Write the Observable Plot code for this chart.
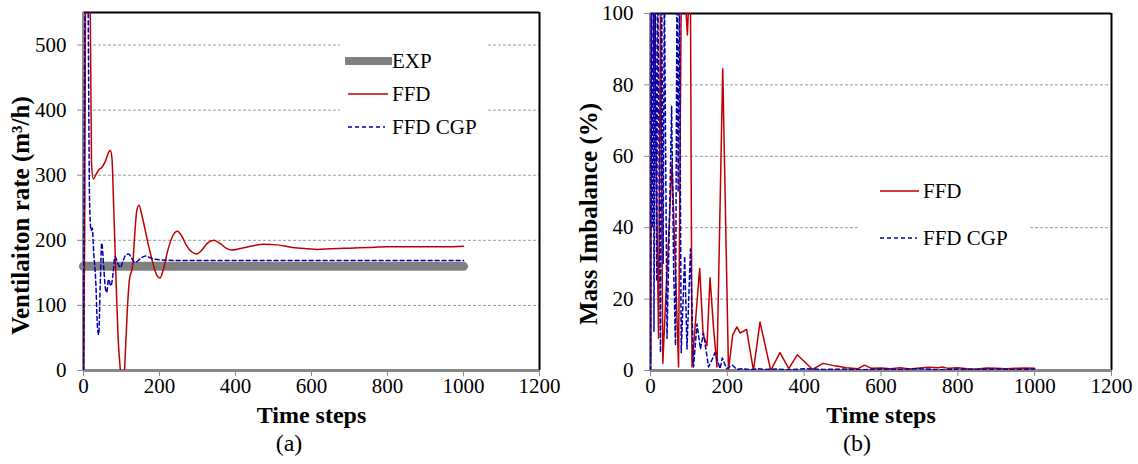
<!DOCTYPE html>
<html><head><meta charset="utf-8">
<script src="https://cdn.jsdelivr.net/npm/d3@7"></script>
<script src="https://cdn.jsdelivr.net/npm/@observablehq/plot@0.6"></script>
<style>
body{margin:0;background:#fff;font-family:"Liberation Serif",serif;}
#wrap{position:relative;width:1138px;height:464px;overflow:hidden;background:#fff}
.panel{position:absolute;top:0}
.box{position:absolute;background:#fff}
.lg{position:absolute;display:flex;align-items:center;height:24px;font-size:21px;line-height:24px;color:#000;white-space:nowrap}
.lg svg{display:block}
.cap{position:absolute;font-size:24px;line-height:24px;transform:translate(-50%,-50%);color:#000}
</style></head>
<body>
<div id="wrap">
  <div id="pa" class="panel" style="left:0"></div>
  <div id="pb" class="panel" style="left:565px"></div>
  <div class="box" style="left:340px;top:38px;width:147px;height:112px"></div>
  <div class="lg" style="left:345px;top:49px"><svg width="47" height="24"><line x1="0" x2="47" y1="12" y2="12" stroke="#808080" stroke-width="8"/></svg><span>EXP</span></div>
  <div class="lg" style="left:348px;top:82px"><svg width="40" height="24"><line x1="0" x2="40" y1="12" y2="12" stroke="#C00000" stroke-width="1.5"/></svg><span style="margin-left:4px">FFD</span></div>
  <div class="lg" style="left:348px;top:115px"><svg width="37" height="24"><line x1="0" x2="37" y1="12" y2="12" stroke="#0000B0" stroke-width="1.5" stroke-dasharray="4,3"/></svg><span style="margin-left:7px">FFD CGP</span></div>
  <div class="box" style="left:858px;top:168px;width:172px;height:92px"></div>
  <div class="lg" style="left:880px;top:179px"><svg width="39" height="24"><line x1="0" x2="39" y1="12" y2="12" stroke="#C00000" stroke-width="1.5"/></svg><span style="margin-left:4px">FFD</span></div>
  <div class="lg" style="left:880px;top:226px"><svg width="37" height="24"><line x1="0" x2="37" y1="12" y2="12" stroke="#0000B0" stroke-width="1.5" stroke-dasharray="4,3"/></svg><span style="margin-left:6px">FFD CGP</span></div>
  <div class="cap" style="left:289px;top:443px">(a)</div>
  <div class="cap" style="left:857px;top:443px">(b)</div>
</div>
<script>
// ---- shared ----
const xTicks = [0, 200, 400, 600, 800, 1000, 1200];
const xMax = 1200;
const xLabel = "Time steps";

// ---- panel (a): ventilation rate ----
const yTicksA = [0, 100, 200, 300, 400, 500];
const yMaxA = 550;
const yLabelA = "Ventilaiton rate (m³/h)";
const expT = [0, 1000];
const expV = [160, 160];
const ffdAT = [0,3,6,17,21,26,32,40,48,58,66,71,75,79,85,92,97,100,105,108,115,121,129,135,140,146,155,170,185,193,201,210,222,235,247,258,270,285,298,310,325,343,360,375,390,410,440,475,510,550,590,616,650,700,750,800,850,900,950,1000];
const ffdAV = [0,200,600,600,320,294,300,308,312,322,335,338,325,260,150,40,0,-30,-30,0,90,140,160,210,245,254,235,195,160,146,142,155,185,207,214,207,193,182,179,184,195,200,195,188,185,187,191,194,193,189,187,186,187,188,189,190,190,190,190,191];
const cgpAT = [0,5,11,16,20,23,27,32,37,40,44,48,53,58,61,66,72,78,83,90,97,105,112,119,127,136,150,163,180,200,250,300,400,500,600,700,800,900,1000];
const cgpAV = [0,600,600,260,215,219,180,140,65,55,130,196,160,125,120,140,130,150,175,165,158,170,178,179,172,166,172,176,172,170,169,169,169,169,169,169,169,169,169];

// ---- panel (b): mass imbalance ----
const yTicksB = [0, 20, 40, 60, 80, 100];
const yMaxB = 100;
const yLabelB = "Mass Imbalance (%)";
const ffdBT = [0,3,9,21,26,32,56,73,80,90,96,100,104,108,118,128,137,147,155,164,173,188,203,214,225,233,242,250,268,285,313,337,360,382,422,449,480,510,540,557,575,600,625,650,675,700,725,750,759,775,800,825,850,875,900,925,950,975,1000];
const ffdBV = [3,105,105,9,105,2,58,1,105,105,94,105,105,1,15,28.6,10,7,26,12,1,84.5,0,10,12.2,10.5,11,11.5,0,13.6,0,5,0.5,4.4,0.3,2,1.3,0.8,0.5,1.5,0.6,0.7,0.5,0.8,0.4,0.7,0.9,0.8,1.0,0.6,0.8,0.5,0.4,0.7,0.6,0.5,0.6,0.7,0.6];
const cgpBT = [0,2,5,8,9,13,16,19,26,29,33,36,43,49,55,60,65,69,72,75,80,89,95,104,112,121,130,138,151,160,168,181,187,198,213,225,240,260,280,300,330,360,400,450,500,550,600,650,700,750,800,850,900,950,1000];
const cgpBV = [0,110,40,110,11,110,25,110,5,110,30,110,9,40,74,30,7,110,50,110,5,32,6,34,1,13,6,10.5,1,3,5,0.5,3.5,0.5,1.5,0.3,0.5,0.2,0.5,0.3,0.4,0.2,0.5,0.3,0.4,0.2,0.4,0.3,0.5,0.2,0.4,0.3,0.4,0.3,0.4];

const RED = "#C00000", BLUE = "#0000B0", GRAY = "#808080";
const FONT = "Liberation Serif";

function panel({width, marginLeft, marginRight, marginTop, yTicks, yMax, yLabel, yDx, yDy, series}) {
  const svg = Plot.plot({
    width, height: 420, marginLeft, marginRight, marginTop, marginBottom: 50,
    style: {fontFamily: FONT, fontSize: "21px", color: "#000", background: "transparent", overflow: "visible"},
    x: {domain: [0, xMax], ticks: xTicks},
    y: {domain: [0, yMax], ticks: yTicks},
    marks: [
      Plot.gridY(yTicks.filter(d => d > 0 && d < yMax), {stroke: "#999", strokeOpacity: 1, strokeWidth: 1, strokeDasharray: "3,2"}),
      Plot.ruleY([yMax], {stroke: "#000", strokeWidth: 2}),
      Plot.ruleX([xMax], {stroke: "#000", strokeWidth: 2}),
      Plot.ruleX([0], {stroke: "#888", strokeWidth: 3}),
      Plot.ruleY([0], {stroke: "#888", strokeWidth: 3}),
      ...series,
      Plot.axisX({ticks: xTicks, tickSize: 6, tickPadding: 2, label: null, stroke: "#888", tickFormat: d => String(d), fontSize: 21}),
      Plot.axisY({ticks: yTicks, tickSize: 6, tickPadding: 11, label: null, stroke: "#888", tickFormat: d => String(d), fontSize: 21}),
      Plot.text([xLabel], {frameAnchor: "bottom", dy: 45, lineAnchor: "middle", textAnchor: "middle", fontWeight: "bold", fontSize: 24, text: d => d}),
      Plot.text([yLabel], {frameAnchor: "left", dx: yDx, dy: yDy, rotate: -90, textAnchor: "middle", lineAnchor: "middle", fontWeight: "bold", fontSize: 25, text: d => d})
    ]
  });
  // force the serif family on every text (including axis tick labels)
  d3.select(svg).selectAll("g, text")
    .attr("font-family", FONT)
    .attr("font-variant", null)
    .style("font-family", FONT, "important")
    .style("font-variant", "normal", "important");
  return svg;
}

const plotA = panel({
  width: 565, marginLeft: 83, marginRight: 26, marginTop: 12,
  yTicks: yTicksA, yMax: yMaxA, yLabel: yLabelA, yDx: -63, yDy: 24,
  series: [
    Plot.lineY(expV, {x: expT, stroke: GRAY, strokeWidth: 9}),
    Plot.lineY(ffdAV, {x: ffdAT, stroke: RED, strokeWidth: 1.5, curve: "monotone-x", clip: true}),
    Plot.lineY(cgpAV, {x: cgpAT, stroke: BLUE, strokeWidth: 1.5, strokeDasharray: "4,3", curve: "monotone-x", clip: true})
  ]
});
document.getElementById("pa").appendChild(plotA);

const plotB = panel({
  width: 573, marginLeft: 85, marginRight: 27, marginTop: 13,
  yTicks: yTicksB, yMax: yMaxB, yLabel: yLabelB, yDx: -62, yDy: 22,
  series: [
    Plot.lineY(ffdBV, {x: ffdBT, stroke: RED, strokeWidth: 1.5, clip: true}),
    Plot.lineY(cgpBV, {x: cgpBT, stroke: BLUE, strokeWidth: 1.5, strokeDasharray: "4,3", clip: true})
  ]
});
document.getElementById("pb").appendChild(plotB);
</script>
</body></html>
